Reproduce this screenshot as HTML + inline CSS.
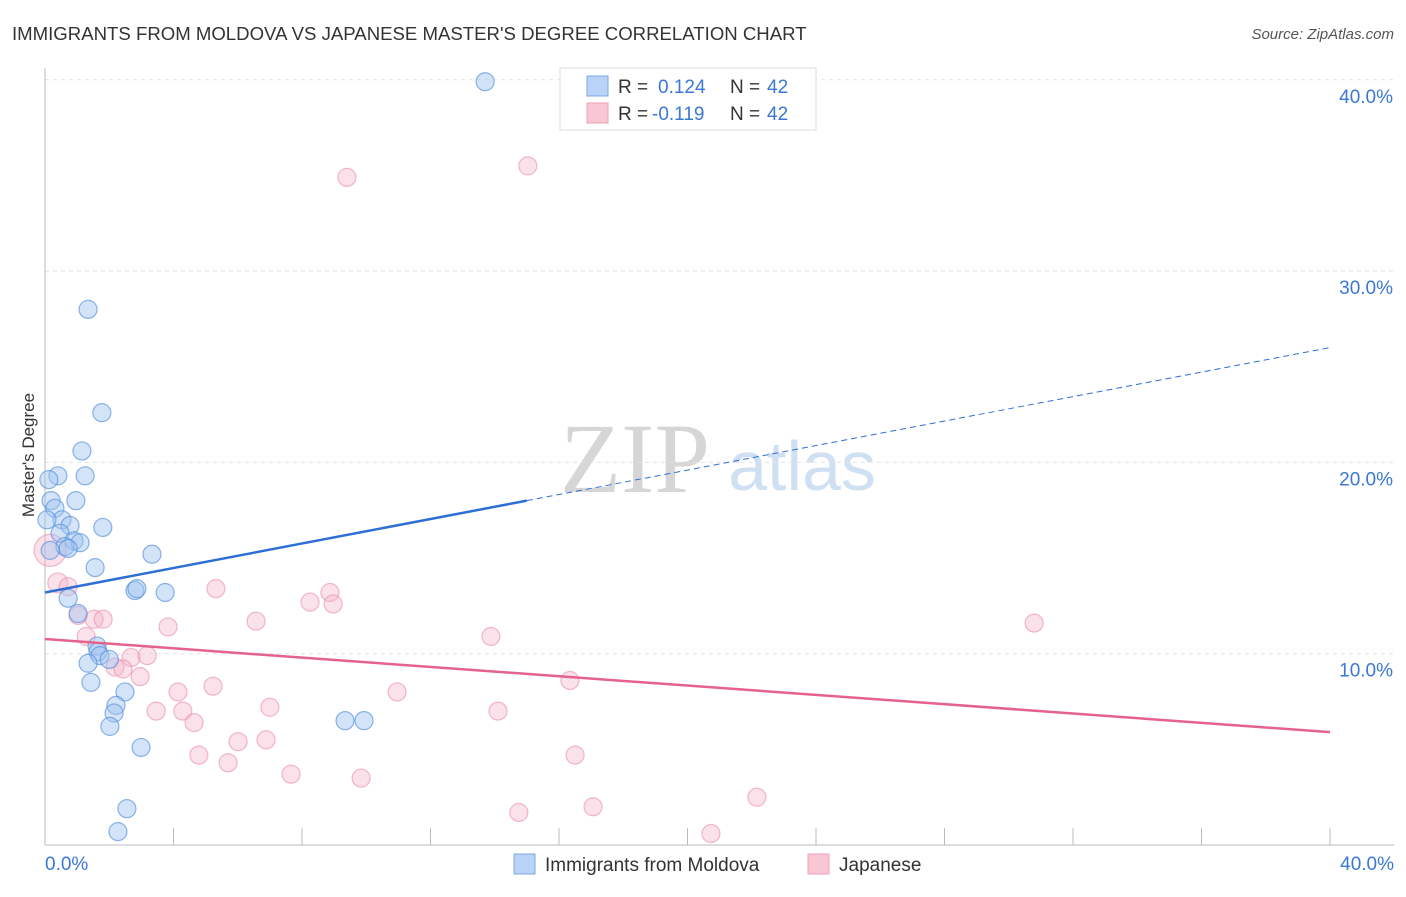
<!DOCTYPE html>
<html><head><meta charset="utf-8"><style>
body{margin:0;background:#fff;font-family:"Liberation Sans",sans-serif;}
</style></head><body>
<svg id="chart" width="1406" height="892" font-family="Liberation Sans, sans-serif">
<text x="12" y="40" font-size="18.6" fill="#333">IMMIGRANTS FROM MOLDOVA VS JAPANESE MASTER'S DEGREE CORRELATION CHART</text>
<text x="1394" y="39" font-size="15" fill="#555" text-anchor="end" font-style="italic">Source: ZipAtlas.com</text>
<text x="635" y="492" font-size="100" fill="#d6d6d6" style="font-family:'Liberation Serif',serif" text-anchor="middle">ZIP</text>
<text x="802" y="490" font-size="70" fill="#cfe0f3" text-anchor="middle">atlas</text>
<text transform="translate(34,455) rotate(-90)" font-size="17" fill="#333" text-anchor="middle">Master's Degree</text>
<g id="grid"></g><g id="marks"></g><g id="lines"></g>
<g>
<rect x="560" y="68" width="256" height="62" fill="#fff" stroke="#ddd"/>
<rect x="587" y="76" width="21" height="20" fill="#b8d3f5" stroke="#7aaae6"/>
<rect x="587" y="103" width="21" height="20" fill="#f9c6d4" stroke="#ee9fb6"/>
<text x="618" y="93" font-size="19" fill="#333">R = </text><text x="658" y="93" font-size="19" fill="#3a78d4">0.124</text>
<text x="730" y="93" font-size="19" fill="#333">N = </text><text x="767" y="93" font-size="19" fill="#3a78d4">42</text>
<text x="618" y="120" font-size="19" fill="#333">R = </text><text x="652" y="120" font-size="19" fill="#3a78d4">-0.119</text>
<text x="730" y="120" font-size="19" fill="#333">N = </text><text x="767" y="120" font-size="19" fill="#3a78d4">42</text>
</g>
<g>
<rect x="514" y="854" width="21" height="20" fill="#b8d3f5" stroke="#7aaae6"/>
<text x="545" y="871" font-size="19" fill="#333">Immigrants from Moldova</text>
<rect x="808" y="854" width="21" height="20" fill="#f9c6d4" stroke="#ee9fb6"/>
<text x="839" y="871" font-size="19" fill="#333">Japanese</text>
</g>
</svg>
<script>
const yTicks=[10,20,30,40];
const yTickLabels=["10.0%","20.0%","30.0%","40.0%"];
const xTickLabels=["0.0%","40.0%"];
const moldovaX=[13.7,1.34,1.77,1.15,1.25,0.4,0.12,0.96,0.19,0.31,0.53,0.78,1.8,0.47,0.9,1.09,0.62,3.33,1.56,2.8,2.86,3.74,0.72,1.03,1.62,1.65,1.71,2.0,1.34,1.43,2.49,2.21,2.15,2.02,2.99,9.34,9.93,2.55,2.27,0.72,0.16,0.06];
const moldovaY=[39.9,28.0,22.6,20.6,19.3,19.3,19.1,18.0,18.0,17.6,17.0,16.7,16.6,16.3,15.9,15.8,15.6,15.2,14.5,13.3,13.4,13.2,12.9,12.1,10.4,10.1,9.9,9.7,9.5,8.5,8.0,7.3,6.9,6.2,5.1,6.5,6.5,1.9,0.7,15.5,15.4,17.0];
const japanX=[9.4,15.03,0.16,0.4,0.72,1.03,1.53,1.81,1.28,3.83,5.32,6.57,8.25,8.87,8.97,13.88,30.79,2.68,3.18,2.18,2.43,2.96,4.14,5.23,3.46,4.29,4.64,7.0,10.96,14.1,16.34,6.01,6.88,4.79,5.7,7.66,9.84,16.5,14.75,17.06,22.16,20.73];
const japanY=[34.9,35.5,15.4,13.7,13.5,12.0,11.8,11.8,10.9,11.4,13.4,11.7,12.7,13.2,12.6,10.9,11.6,9.8,9.9,9.3,9.2,8.8,8.0,8.3,7.0,7.0,6.4,7.2,8.0,7.0,8.6,5.4,5.5,4.7,4.3,3.7,3.5,4.7,1.7,2.0,2.5,0.6];
const japanR=[9,9,16,10,9,9,9,9,9,9,9,9,9,9,9,9,9,9,9,9,9,9,9,9,9,9,9,9,9,9,9,9,9,9,9,9,9,9,9,9,9,9];
const moldovaTrend=[13.2,26.0];
const moldovaSolidEnd=15.0;
const japanTrend=[10.77,5.9];
const NS="http://www.w3.org/2000/svg";
const X=v=>45+v*32.125, Y=v=>845-v*19.13;
function mk(tag,attrs,parent){const e=document.createElementNS(NS,tag);for(const k in attrs)e.setAttribute(k,attrs[k]);parent.appendChild(e);return e;}
const grid=document.getElementById('grid'),marks=document.getElementById('marks'),lines=document.getElementById('lines');
yTicks.forEach((t,i)=>{
 const l=mk('line',{x1:45,x2:1394,y1:Y(t),y2:Y(t),stroke:'#e2e2e2','stroke-dasharray':'4,4'},grid);
 
 
 const tx=mk('text',{x:1393,y:Y(t)+23,'font-size':19,fill:'#3a78d4','text-anchor':'end'},grid);tx.textContent=yTickLabels[i];
 
 
});
const ax=mk('line',{x1:45,x2:45,y1:68,y2:845,stroke:'#bbb'},grid);


const bx=mk('line',{x1:45,x2:1394,y1:845,y2:845,stroke:'#bbb'},grid);


for(let i=1;i<=10;i++){const t=mk('line',{x1:X(i*4),x2:X(i*4),y1:828,y2:845,stroke:'#bbb'},grid);
 
 }
[[0,'start',45],[40,'end',1394]].forEach((d,i)=>{const t=mk('text',{x:d[2],y:870,'font-size':19,fill:'#3a78d4','text-anchor':d[1]},grid);t.textContent=xTickLabels[i];
 
 });
japanX.forEach((x,i)=>{const c=mk('circle',{cx:X(x),cy:Y(japanY[i]),r:japanR[i],fill:'rgba(246,180,200,0.4)',stroke:'rgba(232,140,170,0.6)','stroke-width':1.2},marks);
 
 });
moldovaX.forEach((x,i)=>{const c=mk('circle',{cx:X(x),cy:Y(moldovaY[i]),r:9,fill:'rgba(160,196,240,0.45)',stroke:'rgba(80,140,220,0.65)','stroke-width':1.2},marks);
 
 });
const my=x=>moldovaTrend[0]+(moldovaTrend[1]-moldovaTrend[0])*x/40;
const l1=mk('line',{x1:X(0),y1:Y(my(0)),x2:X(moldovaSolidEnd),y2:Y(my(moldovaSolidEnd)),stroke:'#2e6fd6','stroke-width':2.5},lines);


const l2=mk('line',{x1:X(moldovaSolidEnd),y1:Y(my(moldovaSolidEnd)),x2:X(40),y2:Y(my(40)),stroke:'#2e6fd6','stroke-width':1,'stroke-dasharray':'6,4'},lines);


const l3=mk('line',{x1:X(0),y1:Y(japanTrend[0]),x2:X(40),y2:Y(japanTrend[1]),stroke:'#e4628d','stroke-width':2.5},lines);


</script>
</body></html>
